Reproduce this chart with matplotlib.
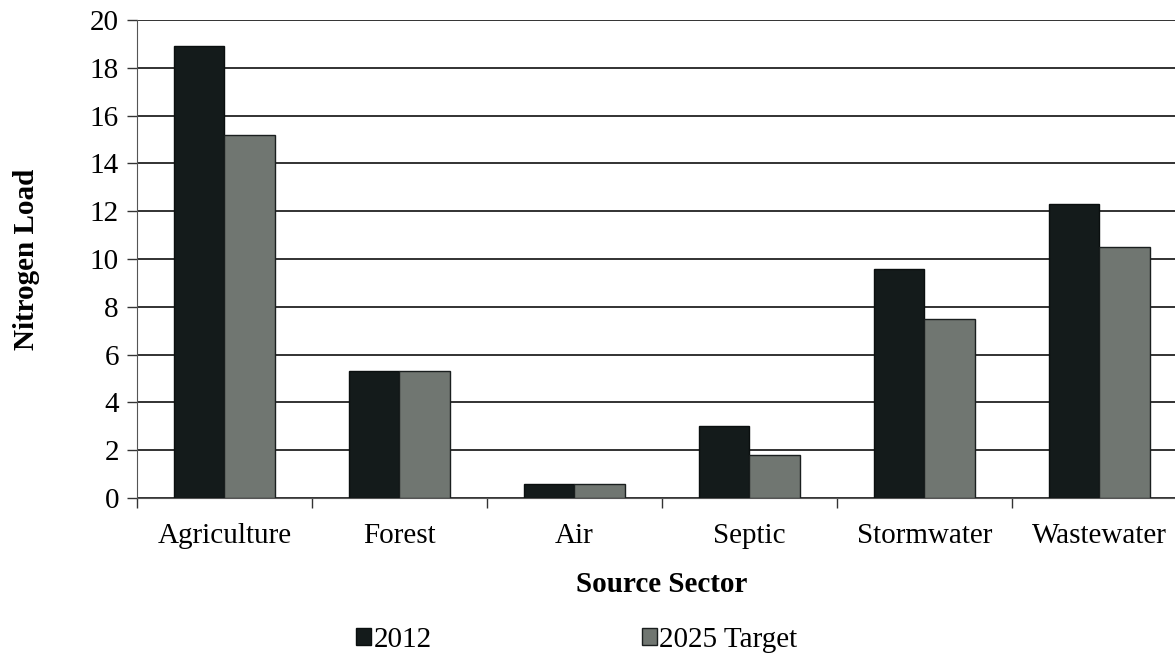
import numpy as np
import matplotlib.pyplot as plt

plt.rcParams['font.family'] = ['Liberation Serif', 'DejaVu Serif']
fontsize = 21
plt.rcParams['font.size'] = fontsize

sectors = ["Agriculture", "Forest", "Air", "Septic", "Stormwater", "Wastewater"]
load_2012 = [18.9, 5.3, 0.6, 3.0, 9.6, 12.3]
load_2025 = [15.2, 5.3, 0.6, 1.8, 7.5, 10.5]

fig = plt.figure(figsize=(11.75, 6.56), dpi=100)
ax = fig.add_axes([137/1175, 158/656, 1050/1175, 478/656])

x = np.arange(len(sectors))
w = 0.286
ax.bar(x - w/2, load_2012, w, color="#141b1b", edgecolor="#0a0f0f", lw=1,
       label="2012", zorder=3)
ax.bar(x + w/2, load_2025, w, color="#707671", edgecolor="#1a1f1f", lw=1,
       label="2025 Target", zorder=3)

ax.set_xlim(-0.5, len(sectors) - 0.5)
ax.set_ylim(0, 20)
ax.set_yticks(np.arange(0, 21, 2))
ax.yaxis.grid(True, color="#222222", lw=1.3, zorder=0)
ax.set_axisbelow(True)

# boundary ticks (major) and centred category labels (minor)
ax.set_xticks(np.arange(-0.5, len(sectors), 1))
ax.set_xticklabels([])
ax.set_xticks(x, minor=True)
ax.set_xticklabels(sectors, minor=True)
ax.tick_params(axis="x", which="major", length=7, width=1, color="#333333")
ax.tick_params(axis="x", which="minor", length=0, pad=18)
ax.tick_params(axis="y", length=7, width=1, color="#333333", pad=6)

for s in ["top", "right"]:
    ax.spines[s].set_visible(False)
ax.spines["left"].set_color("#555555")
ax.spines["bottom"].set_color("#555555")

ax.set_xlabel("Source Sector", fontweight="bold", labelpad=16)
ax.set_ylabel("Nitrogen Load", fontweight="bold", labelpad=36)

fig.legend(loc="lower center", bbox_to_anchor=(0.491, -0.035), ncol=2, frameon=False,
           handlelength=0.5, handleheight=0.5, handletextpad=0.1,
           columnspacing=7.2, fontsize=fontsize)

fig.savefig("out.png", dpi=100)
